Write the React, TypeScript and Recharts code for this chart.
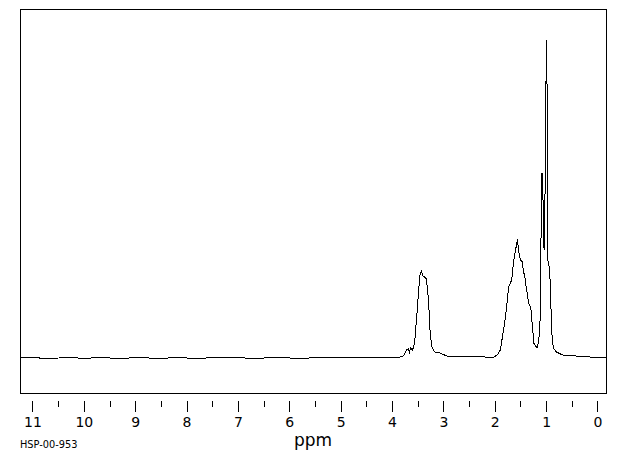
import React from 'react';
import { LineChart, Line, XAxis, YAxis, ReferenceArea } from 'recharts';

// chemical shift (ppm), left to right on the reversed axis
const shifts = [
  11.25, 11.0, 10.75, 10.5, 10.25, 10.0, 9.75, 9.5, 9.25, 9.0, 8.75, 8.5, 8.25, 8.0,
  7.75, 7.5, 7.25, 7.0, 6.75, 6.5, 6.25, 6.0, 5.75, 5.5, 5.25, 5.0, 4.75, 4.5, 4.25,
  4.0, 3.85, 3.79, 3.73, 3.69, 3.67, 3.65, 3.61, 3.57, 3.53, 3.49, 3.47, 3.44, 3.41,
  3.38, 3.34, 3.3, 3.27, 3.24, 3.18, 3.07, 2.95, 2.68, 2.4, 2.2, 2.03, 1.96, 1.9,
  1.84, 1.8, 1.74, 1.68, 1.64, 1.58, 1.565, 1.55, 1.51, 1.47, 1.45, 1.43, 1.41, 1.35,
  1.31, 1.27, 1.25, 1.19, 1.16, 1.13, 1.11, 1.09, 1.07, 1.05, 1.03, 1.005, 0.995,
  0.985, 0.975, 0.94, 0.92, 0.9, 0.87, 0.81, 0.69, 0.43, 0.15, -0.15,
];

const intensity = [
  0, 0.5, -0.5, 0, 0.5, -0.5, 0.5, 0, -0.5, 0.5, 0, -0.5, 0.5, 0,
  -0.5, 0.5, 0, 0.5, -0.5, 0, 0.5, 0, -0.5, 0.5, 0, 0.5, 0, 0.5, 0,
  0.5, 1, 2, 8, 9, 6, 10, 8, 15, 41, 68, 82, 87, 82,
  81, 79, 58, 28, 12, 6, 5, 2, 1, 1.5, 1, 1, 3, 8,
  28, 41, 71, 78, 98, 115, 119, 108, 98, 96, 85, 85, 75, 55,
  51, 28, 15, 10, 15, 31, 118, 185, 158, 108, 168, 318, 300,
  195, 98, 88, 58, 26, 10, 6, 3, 2, 1, 1,
];

const majorTicks = [0, 1, 2, 3, 4, 5, 6, 7, 8, 9, 10, 11];
const minorTicks = [0.5, 1.5, 2.5, 3.5, 4.5, 5.5, 6.5, 7.5, 8.5, 9.5, 10.5];

const X_DOMAIN: [number, number] = [-0.156, 11.253];
const Y_DOMAIN: [number, number] = [-35, 349];

const data = shifts.map((ppm, i) => ({ ppm, value: intensity[i] }));
const allTicks = [...majorTicks, ...minorTicks].sort((a, b) => a - b);

const FONT = '"DejaVu Sans", sans-serif';

const PpmTick = (props: any) => {
  const { x, y, payload } = props;
  const major = Number.isInteger(payload.value);
  return (
    <g>
      <line x1={x} x2={x} y1={y} y2={y + (major ? 11 : 6)} stroke="#000" strokeWidth={1} shapeRendering="crispEdges" />
      {major && (
        <text x={x} y={y + 26} textAnchor="middle" fontSize={14} fontFamily={FONT} fill="#000">
          {payload.value}
        </text>
      )}
    </g>
  );
};

const AxisTexts = (props: any) => {
  const vb = props.viewBox || { x: 20, y: 393, width: 586 };
  return (
    <g>
      <text x={vb.x + vb.width / 2} y={vb.y + 53} textAnchor="middle" fontSize={17} fontFamily={FONT} fill="#000">
        ppm
      </text>
      <text x={vb.x} y={vb.y + 55} fontSize={9.8} fontFamily={FONT} fill="#000">
        HSP-00-953
      </text>
    </g>
  );
};

export default function App() {
  return (
    <div style={{ position: 'absolute', left: 0, top: 0, width: 620, height: 455, background: '#fff' }}>
      <LineChart width={620} height={455} data={data} margin={{ top: 9, right: 14, left: 20, bottom: 22 }}>
        <XAxis
          dataKey="ppm"
          type="number"
          domain={X_DOMAIN}
          reversed
          ticks={allTicks}
          interval={0}
          allowDataOverflow
          tickLine={false}
          axisLine={{ stroke: '#000', shapeRendering: 'crispEdges' }}
          tick={<PpmTick />}
          height={40}
          label={<AxisTexts />}
        />
        <YAxis hide type="number" domain={Y_DOMAIN} allowDataOverflow />
        <ReferenceArea
          x1={X_DOMAIN[0]}
          x2={X_DOMAIN[1]}
          y1={Y_DOMAIN[0]}
          y2={Y_DOMAIN[1]}
          fill="none"
          stroke="#000"
          strokeWidth={1}
          fillOpacity={0}
          shapeRendering="crispEdges"
          ifOverflow="visible"
        />
        <Line
          type="linear"
          dataKey="value"
          stroke="#000"
          strokeWidth={1}
          dot={false}
          shapeRendering="crispEdges"
          isAnimationActive={false}
        />
      </LineChart>
    </div>
  );
}
